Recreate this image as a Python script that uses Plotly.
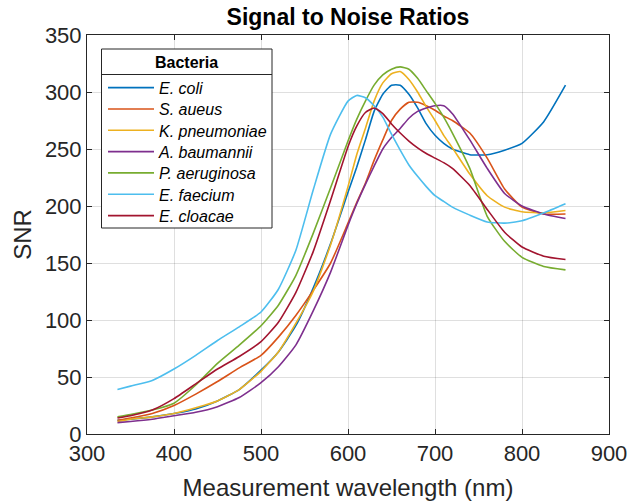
import plotly.graph_objects as go

wavelength = [335, 350, 375, 400, 425, 450, 475, 500, 520, 540, 560, 580, 600, 610, 620,
              630, 640, 650, 660, 670, 680, 690, 700, 710, 720, 740, 760, 780, 800, 825, 850]

e_coli = [12, 13, 15, 18, 22, 29, 39, 56, 72, 95, 128, 167, 212, 234, 258,
          283, 298, 306, 306, 298, 286, 272, 262, 255, 250, 245, 245, 249, 255, 274, 306]
s_aureus = [12, 14, 18, 25, 35, 46, 58, 69, 85, 104, 126, 150, 185, 203, 220,
            240, 258, 275, 285, 291, 291, 288, 284, 279, 275, 264, 242, 215, 199, 193, 193]
k_pneumoniae = [11, 13, 15, 18, 23, 29, 39, 55, 72, 97, 125, 166, 217, 245, 268,
                292, 308, 316, 318, 311, 300, 287, 275, 262, 251, 228, 209, 199, 195, 194, 196]
a_baumannii = [10, 11, 13, 16, 19, 24, 32, 45, 59, 78, 108, 142, 183, 202, 219,
               235, 250, 260, 268, 277, 283, 286, 288, 288, 281, 258, 233, 211, 200, 193, 189]
p_aeruginosa = [15, 17, 21, 27, 43, 62, 78, 95, 113, 139, 176, 216, 257, 276, 292,
                306, 315, 320, 322, 320, 312, 301, 290, 278, 264, 233, 191, 169, 155, 147, 144]
e_faecium = [39, 42, 47, 57, 69, 82, 94, 107, 127, 161, 214, 263, 292, 297, 295,
             288, 278, 263, 249, 236, 226, 217, 209, 204, 199, 192, 186, 185, 187, 194, 202]
e_cloacae = [14, 16, 21, 31, 44, 57, 68, 81, 98, 124, 160, 205, 252, 270, 282,
             286, 281, 272, 264, 257, 251, 246, 242, 238, 233, 218, 197, 177, 164, 156, 153]

names = ["E. coli", "S. aueus", "K. pneumoniae", "A. baumannii",
         "P. aeruginosa", "E. faecium", "E. cloacae"]
series = [e_coli, s_aureus, k_pneumoniae, a_baumannii, p_aeruginosa, e_faecium, e_cloacae]
colors = ["#0072BD", "#D95319", "#EDB120", "#7E2F8E", "#77AC30", "#4DBEEE", "#A2142F"]

x_ticks = [300, 400, 500, 600, 700, 800, 900]
y_ticks = [0, 50, 100, 150, 200, 250, 300, 350]

FONT = "Liberation Sans, Arial, sans-serif"

W, H = 628, 504
L, R, T, B = 87, 19, 35, 70
pw, ph = W - L - R, H - T - B

def px_x(p):
    return (p - L) / pw

def px_y(p):
    return (H - B - p) / ph

fig = go.Figure()
legend_layouts = {}
for i, (n, s, c) in enumerate(zip(names, series, colors)):
    key = "legend" if i == 0 else "legend%d" % (i + 1)
    fig.add_trace(go.Scatter(x=wavelength, y=s, mode="lines", name="<i>" + n + "</i>",
                             legend=key,
                             line=dict(color=c, width=1.6, shape="spline", smoothing=0.5)))
    legend_layouts[key] = dict(x=px_x(103), y=px_y(87.7 + 21.33 * i),
                               xanchor="left", yanchor="middle",
                               bgcolor="rgba(0,0,0,0)", borderwidth=0,
                               font=dict(family=FONT, size=16, color="black"),
                               itemwidth=46)

axis_common = dict(showline=True, linecolor="#262626", linewidth=1, mirror="ticks",
                   ticks="inside", ticklen=5, tickcolor="#262626", automargin=False,
                   showgrid=True, gridcolor="rgba(38,38,38,0.15)", gridwidth=1,
                   zeroline=False, tickfont=dict(family=FONT, size=22, color="#262626"))

fig.update_layout(
    width=W, height=H,
    margin=dict(l=L, r=R, t=T, b=B, autoexpand=False),
    paper_bgcolor="white", plot_bgcolor="white",
    title=dict(text="<b>Signal to Noise Ratios</b>", x=(L + pw / 2) / W, xanchor="center",
               y=1 - 17 / H, yanchor="middle",
               font=dict(family=FONT, size=23, color="black")),
    xaxis=dict(range=[300, 900], tickvals=x_ticks,
               title=dict(text="Measurement wavelength (nm)", standoff=13,
                          font=dict(family=FONT, size=24, color="#262626")),
               **axis_common),
    yaxis=dict(range=[0, 350], tickvals=y_ticks,
               title=dict(text="SNR", standoff=6,
                          font=dict(family=FONT, size=24, color="#262626")),
               **axis_common),
    showlegend=True,
    shapes=[
        dict(type="rect", xref="paper", yref="paper",
             x0=px_x(101.5), x1=px_x(272), y0=px_y(228), y1=px_y(49),
             line=dict(color="#262626", width=1), fillcolor="white", layer="above"),
        dict(type="line", xref="paper", yref="paper",
             x0=px_x(101.5), x1=px_x(272), y0=px_y(74.5), y1=px_y(74.5),
             line=dict(color="#262626", width=1), layer="above"),
    ],
    annotations=[
        dict(text="<b>Bacteria</b>", xref="paper", yref="paper",
             x=px_x(186.5), y=px_y(62.5), xanchor="center", yanchor="middle",
             showarrow=False, font=dict(family=FONT, size=16, color="black")),
    ],
)
fig.update_layout(**legend_layouts)

fig.write_html("out.html", config={"displayModeBar": False},
               post_script="document.body.style.margin='0';document.body.style.overflow='hidden';")
